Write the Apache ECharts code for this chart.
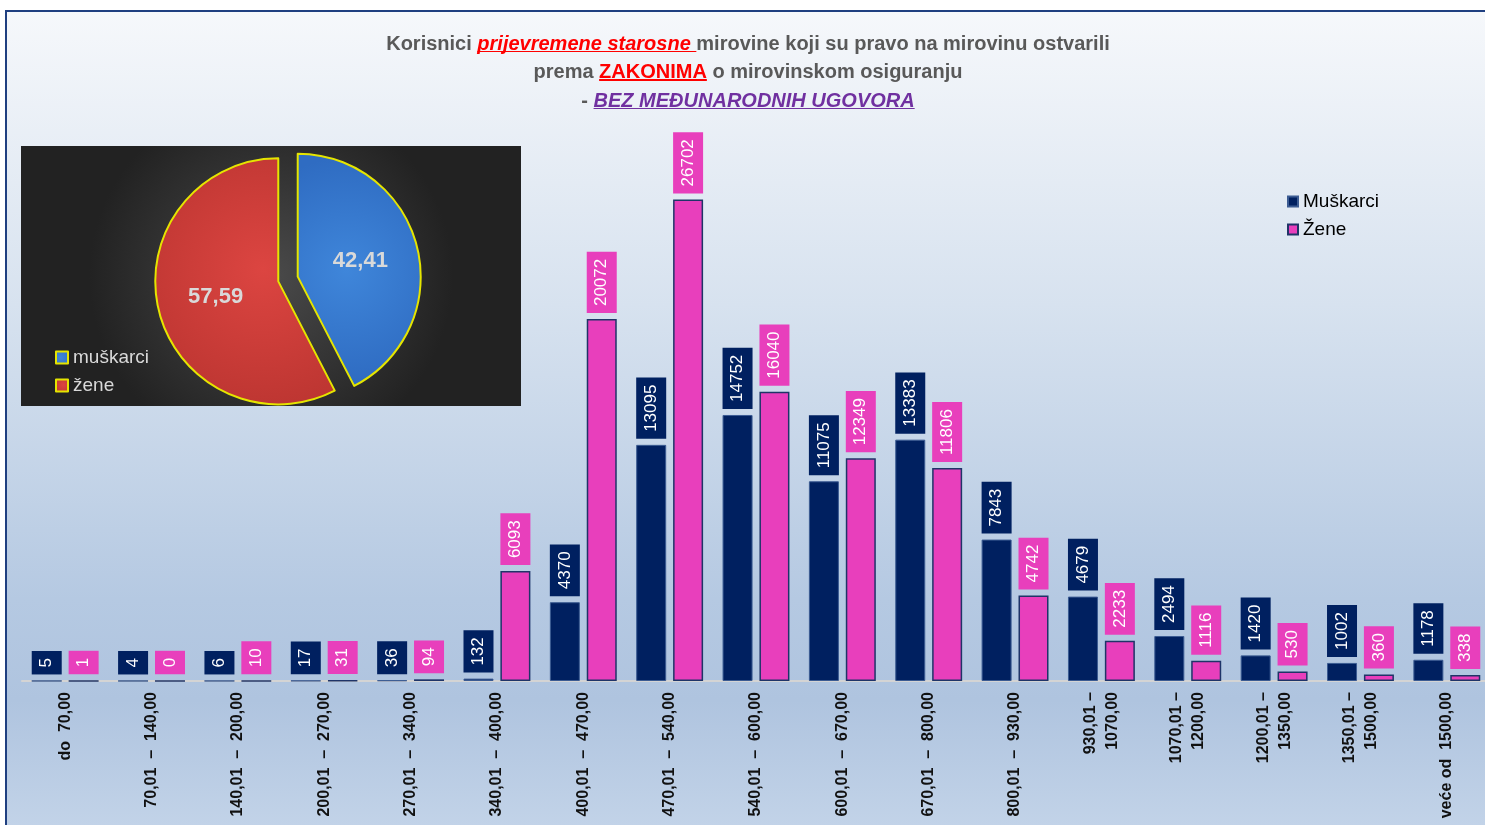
<!DOCTYPE html>
<html>
<head>
<meta charset="utf-8">
<script src="https://cdn.jsdelivr.net/npm/echarts@6/dist/echarts.min.js"></script>
<style>
html,body{margin:0;padding:0;background:#ffffff;overflow:hidden;width:1485px;height:825px;}
#chart{width:1495px;height:825px;}
</style>
</head>
<body>
<div id="chart"></div>
<script>
// ---- data ----
var categories = [
  'do  70,00',
  '70,01  –  140,00',
  '140,01  –  200,00',
  '200,01  –  270,00',
  '270,01  –  340,00',
  '340,01  –  400,00',
  '400,01  –  470,00',
  '470,01  –  540,00',
  '540,01  –  600,00',
  '600,01  –  670,00',
  '670,01  –  800,00',
  '800,01  –  930,00',
  '930,01 –\n1070,00',
  '1070,01 –\n1200,00',
  '1200,01 –\n1350,00',
  '1350,01 –\n1500,00',
  'veće od  1500,00'
];
var muskarci = [5, 4, 6, 17, 36, 132, 4370, 13095, 14752, 11075, 13383, 7843, 4679, 2494, 1420, 1002, 1178];
var zene = [1, 0, 10, 31, 94, 6093, 20072, 26702, 16040, 12349, 11806, 4742, 2233, 1116, 530, 360, 338];
var pieNames = ['muškarci', 'žene'];
var pieValues = [42.41, 57.59];
var barSeriesNames = ['Muškarci', 'Žene'];

var NAVY = '#002060';
var PINK = '#e83fbc';

function underline(color) {
  return {
    type: 'linear', x: 0, y: 0, x2: 0, y2: 1,
    colorStops: [
      {offset: 0, color: 'rgba(0,0,0,0)'},
      {offset: 0.83, color: 'rgba(0,0,0,0)'},
      {offset: 0.83, color: color},
      {offset: 0.89, color: color},
      {offset: 0.89, color: 'rgba(0,0,0,0)'},
      {offset: 1, color: 'rgba(0,0,0,0)'}
    ]
  };
}

var FONT = 'Liberation Sans';
var titleBase = {fontFamily: FONT, fontSize: 20, fontWeight: 'bold', lineHeight: 28.5};

var chart = echarts.init(document.getElementById('chart'), null, {renderer: 'canvas'});

var barLabel = function (color) {
  return {
    show: true,
    position: 'top',
    rotate: 90,
    align: 'left',
    verticalAlign: 'middle',
    distance: 6,
    color: '#ffffff',
    fontFamily: FONT,
    fontSize: 17,
    lineHeight: 17,
    backgroundColor: color,
    padding: [6.5, 7, 6.5, 7]
  };
};

var option = {
  animation: false,
  backgroundColor: '#ffffff',
  graphic: [
    {
      type: 'rect', z: -20,
      shape: {x: 6, y: 11, width: 1500, height: 840},
      style: {
        fill: {
          type: 'linear', x: 0, y: 0, x2: 0, y2: 1,
          colorStops: [
            {offset: 0, color: '#f6f8fb'},
            {offset: 0.35, color: '#d7e2ef'},
            {offset: 0.70, color: '#b5c9e2'},
            {offset: 0.82, color: '#afc4df'},
            {offset: 1, color: '#c6d6ea'}
          ]
        },
        stroke: '#1f3f80',
        lineWidth: 2
      }
    },
    {
      type: 'rect', z: -10,
      shape: {x: 21, y: 146, width: 500, height: 260},
      style: {
        fill: {
          type: 'radial', x: 0.5, y: 0.5, r: 0.7,
          colorStops: [
            {offset: 0, color: '#4a4a4a'},
            {offset: 1, color: '#222222'}
          ]
        }
      }
    }
  ],
  title: {
    left: 748,
    textAlign: 'center',
    top: 30,
    padding: 0,
    text: '{g|Korisnici }{r|prijevremene starosne }{g|mirovine koji su pravo na mirovinu ostvarili}\n' +
          '{g|prema }{z|ZAKONIMA}{g| o mirovinskom osiguranju}\n' +
          '{g|- }{p|BEZ MEĐUNARODNIH UGOVORA}',
    textStyle: {
      rich: {
        g: Object.assign({}, titleBase, {color: '#595959'}),
        r: Object.assign({}, titleBase, {color: '#ff0000', fontStyle: 'italic', backgroundColor: underline('#ff0000')}),
        z: Object.assign({}, titleBase, {color: '#ff0000', backgroundColor: underline('#ff0000')}),
        p: Object.assign({}, titleBase, {color: '#7030a0', fontStyle: 'italic', backgroundColor: underline('#7030a0')})
      }
    }
  },
  legend: [
    {
      data: barSeriesNames,
      orient: 'vertical',
      left: 1287,
      top: 191,
      padding: 0,
      itemWidth: 10,
      itemHeight: 10,
      itemGap: 7,
      icon: 'rect',
      textStyle: {fontFamily: FONT, fontSize: 19, lineHeight: 21, color: '#000000'}
    },
    {
      data: pieNames,
      orient: 'vertical',
      left: 55,
      top: 347,
      padding: 0,
      itemWidth: 12,
      itemHeight: 12,
      itemGap: 7,
      icon: 'rect',
      textStyle: {fontFamily: FONT, fontSize: 19, lineHeight: 21, color: '#d9d9d9'}
    }
  ],
  grid: {left: 22, width: 1468, top: 140, bottom: 144, containLabel: false},
  xAxis: {
    type: 'category',
    data: categories,
    axisLine: {show: true, lineStyle: {color: '#d4d4d4', width: 2}},
    axisTick: {show: false},
    axisLabel: {
      rotate: 90,
      interval: 0,
      margin: 11,
      fontFamily: FONT,
      fontSize: 16,
      fontWeight: 'bold',
      lineHeight: 22,
      color: '#111111'
    }
  },
  yAxis: {
    type: 'value',
    min: 0,
    max: 30000,
    show: false,
    splitLine: {show: false}
  },
  series: [
    {
      name: barSeriesNames[0],
      type: 'bar',
      data: muskarci,
      barWidth: 30,
      barGap: '23%',
      itemStyle: {color: NAVY, borderColor: '#3b5b92', borderWidth: 1},
      label: barLabel(NAVY)
    },
    {
      name: barSeriesNames[1],
      type: 'bar',
      data: zene,
      barWidth: 30,
      itemStyle: {color: PINK, borderColor: '#1f3468', borderWidth: 1.5},
      label: barLabel(PINK)
    },
    {
      name: 'pie',
      type: 'pie',
      z: 5,
      center: [288, 279],
      radius: 123,
      startAngle: 90,
      clockwise: true,
      selectedMode: 'multiple',
      selectedOffset: 10,
      label: {
        show: true,
        position: 'inside',
        fontFamily: FONT,
        fontSize: 22,
        fontWeight: 'bold',
        color: '#d9d9d9',
        formatter: function (p) { return String(p.value).replace('.', ','); }
      },
      labelLine: {show: false},
      itemStyle: {borderColor: '#e5e500', borderWidth: 2},
      emphasis: {disabled: true},
      data: [
        {
          name: pieNames[0], value: pieValues[0], selected: true,
          itemStyle: {
            color: {
              type: 'radial', x: 0.4, y: 0.5, r: 0.9,
              colorStops: [{offset: 0, color: '#3f86da'}, {offset: 1, color: '#2f6cc2'}]
            }
          }
        },
        {
          name: pieNames[1], value: pieValues[1], selected: true,
          itemStyle: {
            color: {
              type: 'radial', x: 0.6, y: 0.45, r: 0.9,
              colorStops: [{offset: 0, color: '#dc4541'}, {offset: 1, color: '#b8332f'}]
            }
          }
        }
      ]
    }
  ]
};
chart.setOption(option);
</script>
</body>
</html>
